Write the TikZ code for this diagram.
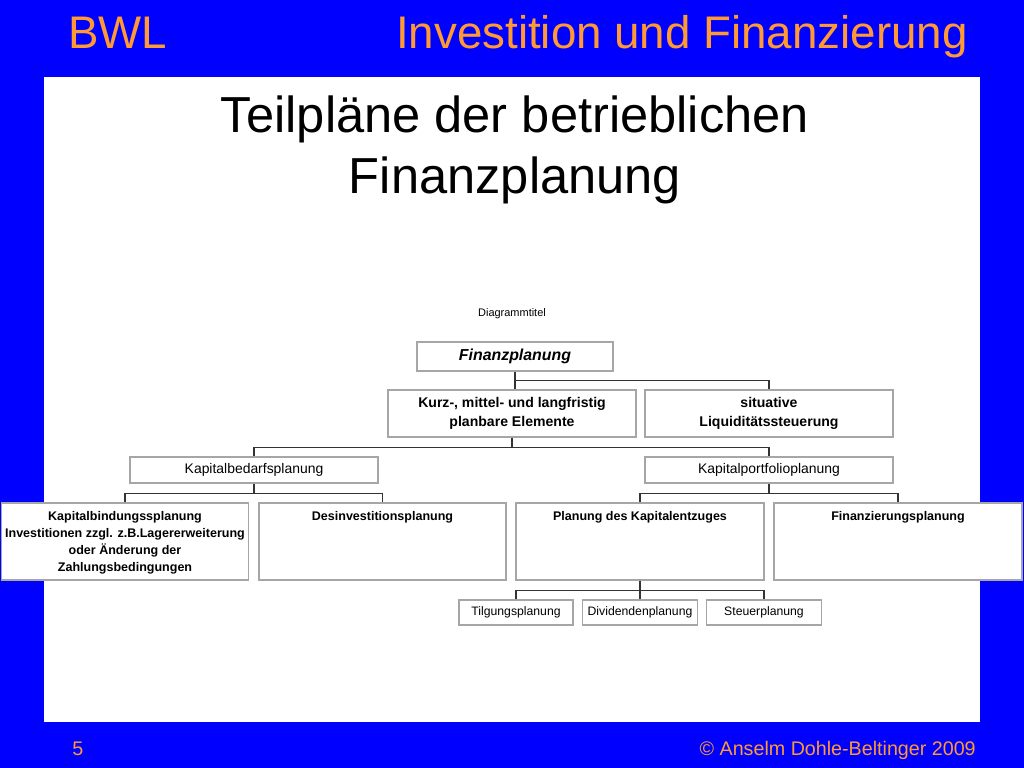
\documentclass[tikz,border=0pt]{standalone}
\usepackage{fontspec}
\setmainfont{Liberation Sans}
\definecolor{hgblau}{HTML}{0000FF}
\definecolor{korange}{HTML}{FF9933}
\definecolor{rahmengrau}{HTML}{A6A6A6}
\definecolor{liniengrau}{HTML}{333333}

\tikzset{
  kasten/.style={draw=rahmengrau, fill=white, line width=0.9pt, inner sep=0pt, align=center},
  verb/.style={draw=liniengrau, line width=0.9pt},
  oben/.style={anchor=north, yshift=-3pt, align=center, font=\fontsize{8.9}{12}\selectfont\bfseries},
  kopf/.style={inner sep=0pt, korange, font=\fontsize{32.5}{36}\selectfont},
  fuss/.style={inner sep=0pt, korange, font=\fontsize{14}{16}\selectfont}
}

\begin{document}
\begin{tikzpicture}[x=0.025cm, y=-0.025cm]
  \useasboundingbox (0,0) rectangle (1024,768);
  \fill[hgblau] (0,0) rectangle (1024,768);
  \fill[white] (44,77) rectangle (980,722);

  \node[kopf, anchor=base west] (bwl) at (68,49) {BWL};
  \node[kopf, anchor=base east] (fach) at (968,49) {Investition und Finanzierung};
  \node[anchor=base, inner sep=0pt, font=\fontsize{36}{42.5}\selectfont] (titel1) at (515,133) {Teilpläne der betrieblichen};
  \node[anchor=base, inner sep=0pt, font=\fontsize{36}{42.5}\selectfont] (titel2) at (515,193) {Finanzplanung};
  \node[fuss, anchor=base west] (seite) at (72,755) {5};
  \node[fuss, anchor=base east] (autor) at (976,755) {© Anselm Dohle-Beltinger 2009};

  \node[font=\fontsize{7.8}{9}\selectfont] (dtitel) at (512,314) {Diagrammtitel};

  % Ebene 1 und 2
  \node[kasten, minimum width=4.9cm, minimum height=0.725cm, font=\fontsize{11.3}{13}\selectfont\bfseries\itshape] (fin) at (515,356.5) {Finanzplanung};
  \node[kasten, minimum width=6.2cm, minimum height=1.175cm, font=\fontsize{10}{13.5}\selectfont\bfseries] (kurz) at (512,413.5) {Kurz-, mittel- und langfristig\\planbare Elemente};
  \node[kasten, minimum width=6.2cm, minimum height=1.175cm, font=\fontsize{10}{13.5}\selectfont\bfseries] (sit) at (769,413.5) {situative\\Liquiditätssteuerung};

  % Ebene 3
  \node[kasten, minimum width=6.2cm, minimum height=0.65cm, font=\fontsize{9.9}{12}\selectfont] (kbed) at (254,470) {Kapitalbedarfsplanung};
  \node[kasten, minimum width=6.2cm, minimum height=0.65cm, font=\fontsize{9.9}{12}\selectfont] (kport) at (769,470) {Kapitalportfolioplanung};

  % Ebene 4
  \node[kasten, minimum width=6.175cm, minimum height=1.925cm, label={[oben]north:Kapitalbindungssplanung\\Investitionen zzgl. z.B.Lagererweiterung\\oder Änderung der\\Zahlungsbedingungen}] (kbind) at (125,541.5) {};
  \node[kasten, minimum width=6.175cm, minimum height=1.925cm, label={[oben]north:Desinvestitionsplanung}] (desinv) at (382.5,541.5) {};
  \node[kasten, minimum width=6.2cm, minimum height=1.925cm, label={[oben]north:Planung des Kapitalentzuges}] (entzug) at (640,541.5) {};
  \node[kasten, minimum width=6.2cm, minimum height=1.925cm, label={[oben]north:Finanzierungsplanung}] (finz) at (898,541.5) {};

  % Ebene 5
  \node[kasten, minimum width=2.85cm, minimum height=0.625cm, font=\fontsize{8.7}{10}\selectfont] (tilg) at (516,612.5) {Tilgungsplanung};
  \node[kasten, minimum width=2.875cm, minimum height=0.625cm, font=\fontsize{8.7}{10}\selectfont] (divi) at (640,612.5) {Dividendenplanung};
  \node[kasten, minimum width=2.875cm, minimum height=0.625cm, font=\fontsize{8.7}{10}\selectfont] (steuer) at (764,612.5) {Steuerplanung};

  % Verbindungen
  \draw[verb] (fin.south) -- ++(0,9) coordinate (j1) -| (sit.north);
  \draw[verb] (j1) -- (j1 |- kurz.north);
  \draw[verb] (kurz.south) -- ++(0,10) coordinate (j2);
  \draw[verb] (kbed.north) |- (j2) -| (kport.north);
  \draw[verb] (kbed.south) -- ++(0,10) coordinate (j3);
  \draw[verb] (kbind.north) |- (j3) -| (desinv.north);
  \draw[verb] (kport.south) -- ++(0,10) coordinate (j4);
  \draw[verb] (entzug.north) |- (j4) -| (finz.north);
  \draw[verb] (entzug.south) -- ++(0,10) coordinate (j5) -- (divi.north);
  \draw[verb] (tilg.north) |- (j5) -| (steuer.north);
\end{tikzpicture}
\end{document}
